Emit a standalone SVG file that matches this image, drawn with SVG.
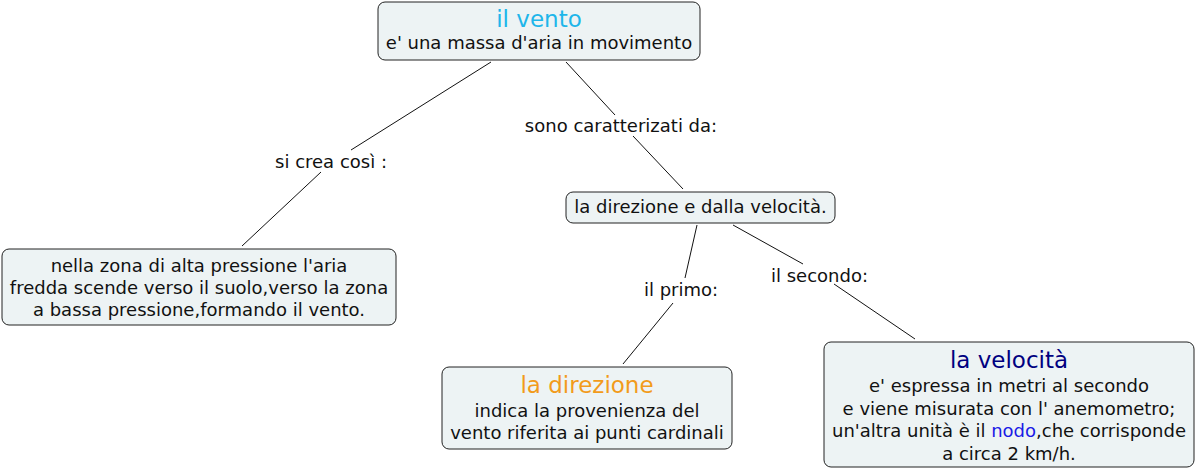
<svg xmlns="http://www.w3.org/2000/svg" width="1196" height="470" viewBox="0 0 1196 470">
<style>
.box{fill:#edf3f4;stroke:#222;stroke-width:1}
text{font-family:"DejaVu Sans",Verdana,sans-serif;font-size:18px;fill:#111;text-anchor:middle}
.t{font-size:23px}
.conn line{stroke:#111;stroke-width:1}
</style>
<rect width="1196" height="470" fill="#fff"/>
<g class="conn" id="connectors">
<line x1="491" y1="62" x2="351" y2="150"/>
<line x1="321" y1="172" x2="242" y2="246"/>
<line x1="566" y1="62" x2="615" y2="115"/>
<line x1="633" y1="136" x2="683" y2="189"/>
<line x1="697" y1="225" x2="685" y2="278"/>
<line x1="673" y1="303" x2="623" y2="364"/>
<line x1="733" y1="225" x2="803" y2="264"/>
<line x1="834" y1="284" x2="915" y2="339"/>
<text x="331" y="168">si crea così :</text>
<text x="621" y="132">sono caratterizati da:</text>
<text x="681" y="296">il primo:</text>
<text x="819.5" y="282">il secondo:</text>
</g>
<g id="vento">
<rect class="box" x="378" y="2" width="322" height="58" rx="7"/>
<text class="t" x="539" y="27" style="fill:#1eb6ea">il vento</text>
<text x="539" y="49">e' una massa d'aria in movimento</text>
</g>
<g id="formazione">
<rect class="box" x="2" y="249" width="394" height="76" rx="7"/>
<text x="199" y="272">nella zona di alta pressione l'aria</text>
<text x="199" y="294">fredda scende verso il suolo,verso la zona</text>
<text x="199" y="316">a bassa pressione,formando il vento.</text>
</g>
<g id="caratteristiche">
<rect class="box" x="566" y="192" width="269" height="31" rx="7"/>
<text x="700.5" y="213">la direzione e dalla velocità.</text>
</g>
<g id="direzione">
<rect class="box" x="442" y="367" width="290" height="82" rx="7"/>
<text class="t" x="587" y="393" style="fill:#f29b1b">la direzione</text>
<text x="587" y="417">indica la provenienza del</text>
<text x="587" y="439">vento riferita ai punti cardinali</text>
</g>
<g id="velocita">
<rect class="box" x="824" y="342" width="370" height="125" rx="7"/>
<text class="t" x="1009" y="368" style="fill:#000080">la velocità</text>
<text x="1009" y="392">e' espressa in metri al secondo</text>
<text x="1009" y="415">e viene misurata con l' anemometro;</text>
<text x="1009" y="437">un'altra unità è il <tspan style="fill:#1a1ae6">nodo</tspan>,che corrisponde</text>
<text x="1009" y="460">a circa 2 km/h.</text>
</g>
</svg>
